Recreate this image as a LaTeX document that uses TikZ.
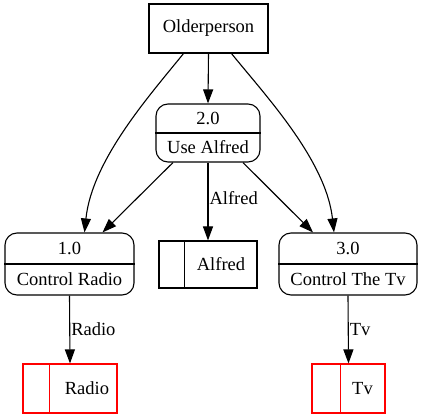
\documentclass[tikz,border=0pt]{standalone}
\usepackage{fontspec}
\setmainfont{Liberation Serif}
\usetikzlibrary{arrows.meta}
\tikzset{
  every node/.style={font=\rmfamily\fontsize{18.5}{22}\selectfont},
  ext/.style={draw, line width=1.1pt, inner sep=0pt},
  procbox/.style={draw, line width=1.1pt, rounded corners=12pt, inner sep=0pt},
  storebox/.style={draw, line width=1.1pt, inner sep=0pt},
  redstore/.style={storebox, draw=red},
  txt/.style={inner sep=0pt},
  lbl/.style={anchor=west, inner sep=1pt},
  flow/.style={line width=1.1pt, -{Triangle[length=14pt, width=10pt]}},
}
\begin{document}
\begin{tikzpicture}[x=1pt, y=-1pt]
\useasboundingbox (0,0) rectangle (423,419);
% external entity
\node[ext, minimum width=119pt, minimum height=49pt] (op) at (208.5,28.5) {Olderperson};
% processes
\node[procbox, minimum width=104pt, minimum height=58pt] (p2) at (208,133) {};
\draw[line width=1.1pt] (p2.west) -- (p2.east);
\node[txt] (p2a) at ([yshift=14.5pt]p2.center) {2.0};
\node[txt] (p2b) at ([yshift=-14.5pt]p2.center) {Use Alfred};

\node[procbox, minimum width=129pt, minimum height=62pt] (p1) at (69.5,264) {};
\draw[line width=1.1pt] (p1.west) -- (p1.east);
\node[txt] (p1a) at ([yshift=15.5pt]p1.center) {1.0};
\node[txt] (p1b) at ([yshift=-15.5pt]p1.center) {Control Radio};

\node[procbox, minimum width=138pt, minimum height=62pt] (p3) at (348,264) {};
\draw[line width=1.1pt] (p3.west) -- (p3.east);
\node[txt] (p3a) at ([yshift=15.5pt]p3.center) {3.0};
\node[txt] (p3b) at ([yshift=-15.5pt]p3.center) {Control The Tv};

% data stores
\node[storebox, minimum width=98pt, minimum height=47pt] (sa) at (208,264.5) {};
\draw[line width=1.1pt] ([xshift=26pt]sa.north west) -- ([xshift=26pt]sa.south west);
\node[txt] (sat) at ([xshift=13pt]sa.center) {Alfred};

\node[redstore, minimum width=94pt, minimum height=49pt] (sr) at (70,388.5) {};
\draw[line width=1.1pt, red] ([xshift=27pt]sr.north west) -- ([xshift=27pt]sr.south west);
\node[txt] (srt) at ([xshift=17pt]sr.center) {Radio};

\node[redstore, minimum width=73pt, minimum height=49pt] (st) at (348.5,388.5) {};
\draw[line width=1.1pt, red] ([xshift=29pt]st.north west) -- ([xshift=29pt]st.south west);
\node[txt] (stt) at ([xshift=14pt]st.center) {Tv};

% flows
\draw[flow] (op.south) -- (p2.north);
\draw[flow] ([xshift=-25pt]op.south) .. controls (150,95) and (92,160) .. ([xshift=15pt]p1.north);
\draw[flow] ([xshift=23pt]op.south) .. controls (265,95) and (326,160) .. ([xshift=-14pt]p3.north);
\draw[flow] ([xshift=-35pt]p2.south) -- ([xshift=33pt]p1.north);
\draw[flow] ([xshift=35pt]p2.south) -- ([xshift=-35pt]p3.north);
\draw[flow] (p2.south) -- node[lbl, pos=0.45] {Alfred} (sa.north);
\draw[flow] (p1.south) -- node[lbl] {Radio} (sr.north);
\draw[flow] (p3.south) -- node[lbl] {Tv} (st.north);
\end{tikzpicture}
\end{document}
